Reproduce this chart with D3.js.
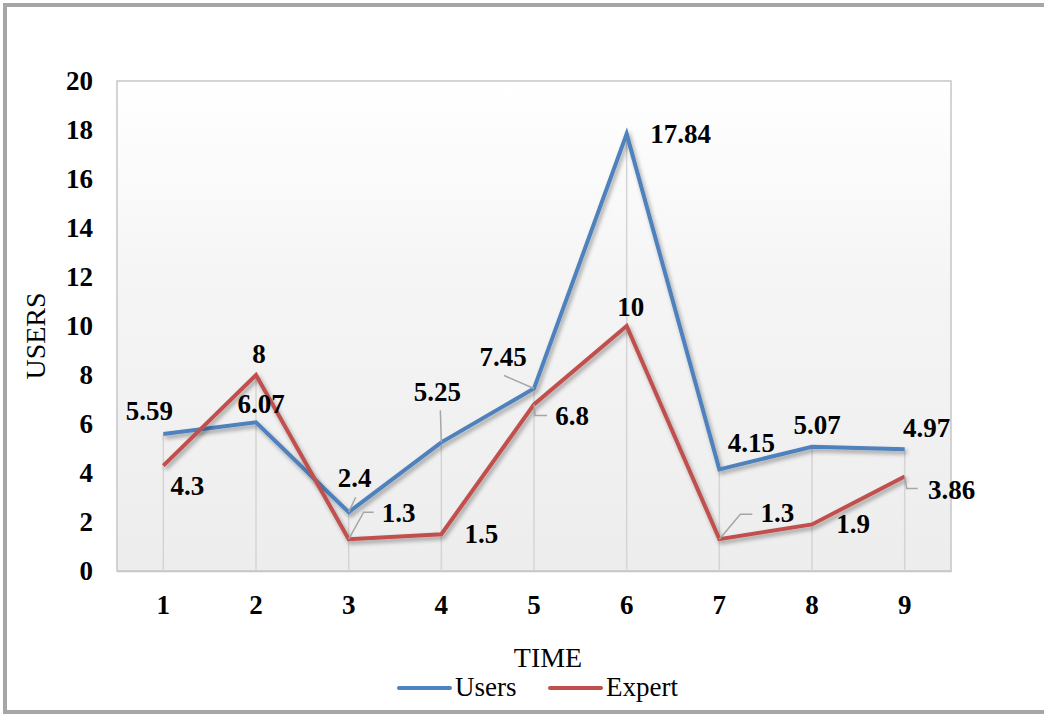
<!DOCTYPE html>
<html>
<head>
<meta charset="utf-8">
<script src="https://cdn.jsdelivr.net/npm/d3@7"></script>
<style>
  html, body { margin: 0; padding: 0; background: #ffffff; }
  svg { display: block; }
  text { font-family: "Liberation Serif", "Times New Roman", serif; fill: #000; }
</style>
</head>
<body>
<svg id="chart" width="1044" height="714"></svg>
<script>
// Chart values
const timeLabels = ["1", "2", "3", "4", "5", "6", "7", "8", "9"];
const usersValues = [5.59, 6.07, 2.4, 5.25, 7.45, 17.84, 4.15, 5.07, 4.97];
const expertValues = [4.3, 8, 1.3, 1.5, 6.8, 10, 1.3, 1.9, 3.86];
const yTicks = [0, 2, 4, 6, 8, 10, 12, 14, 16, 18, 20];
const seriesNames = ["Users", "Expert"];

// Data label placement (offsets from each point, in pixels)
const usersLabelOffsets = [[-14, -23], [5, -18], [6, -34], [-4, -50], [-31, -31], [54, 0], [32, -26], [5, -22], [22, -21]];
const expertLabelOffsets = [[24, 20], [3, -21], [50, -26], [40, 0], [38, 12], [4, -19], [58, -26], [41, 0], [47, 14]];
// Leader lines for labels pushed away from their points
const usersLeaders = [null, null, [[0, 0], [7, -15]], [[0, 0], [-1, -32]], [[0, 0], [-30, -13]], null, null, null, null];
const expertLeaders = [null, null, [[0, 0], [15, -27], [25, -27]], null, [[0, 0], [1, 11], [13, 11]], null, [[0, 0], [21, -25], [33, -25]], null, [[0, 0], [2, 12], [13, 12]]];

const W = 1044, H = 714;
const plot = { left: 117, right: 951, top: 81, bottom: 571 };
const colors = { Users: "#4f81bd", Expert: "#c0504d" };

const svg = d3.select("#chart");
const defs = svg.append("defs");

const grad = defs.append("linearGradient")
  .attr("id", "plotBg").attr("x1", 0).attr("y1", 0).attr("x2", 0).attr("y2", 1);
grad.append("stop").attr("offset", "0%").attr("stop-color", "#ffffff");
grad.append("stop").attr("offset", "45%").attr("stop-color", "#f4f4f4");
grad.append("stop").attr("offset", "100%").attr("stop-color", "#ededed");

const shadow = defs.append("filter").attr("id", "lineShadow")
  .attr("x", "-10%").attr("y", "-10%").attr("width", "120%").attr("height", "130%");
shadow.append("feDropShadow")
  .attr("dx", 2).attr("dy", 3).attr("stdDeviation", 2)
  .attr("flood-color", "#000").attr("flood-opacity", 0.35);

// Outer chart frame
svg.append("rect")
  .attr("x", 5).attr("y", 5).attr("width", W + 20).attr("height", 707)
  .attr("fill", "#ffffff").attr("stroke", "#a6a6a6").attr("stroke-width", 4);

const x = d3.scaleBand().domain(timeLabels).range([plot.left, plot.right]);
const y = d3.scaleLinear().domain([0, 20]).range([plot.bottom, plot.top]);
const cx = i => x(timeLabels[i]) + x.bandwidth() / 2;

// Plot area
svg.append("rect")
  .attr("x", plot.left).attr("y", plot.top)
  .attr("width", plot.right - plot.left).attr("height", plot.bottom - plot.top)
  .attr("fill", "url(#plotBg)").attr("stroke", "#c6c6c6").attr("stroke-width", 1.5);

// Drop lines from the higher point of each category
svg.append("g").selectAll("line").data(timeLabels).join("line")
  .attr("x1", (d, i) => cx(i)).attr("x2", (d, i) => cx(i))
  .attr("y1", (d, i) => y(Math.max(usersValues[i], expertValues[i])))
  .attr("y2", plot.bottom)
  .attr("stroke", "#d4d4d4").attr("stroke-width", 1.5);

// Y axis tick labels
const yAxis = d3.axisLeft(y).tickValues(yTicks).tickSize(0).tickPadding(24).tickFormat(d3.format("d"));
const gy = svg.append("g").attr("transform", `translate(${plot.left},0)`).call(yAxis);
gy.select(".domain").remove();
gy.selectAll("text")
  .style("font-family", '"Liberation Serif", "Times New Roman", serif')
  .style("font-size", "27px").style("font-weight", "bold").attr("fill", "#000");

// X axis tick labels
const xAxis = d3.axisBottom(x).tickSize(0).tickPadding(24);
const gx = svg.append("g").attr("transform", `translate(0,${plot.bottom})`).call(xAxis);
gx.select(".domain").attr("stroke", "#c6c6c6").attr("stroke-width", 1.5);
gx.selectAll("text")
  .style("font-family", '"Liberation Serif", "Times New Roman", serif')
  .style("font-size", "27px").style("font-weight", "bold").attr("fill", "#000");

// Axis titles
svg.append("text")
  .attr("transform", `translate(45,${(plot.top + plot.bottom) / 2 + 10}) rotate(-90)`)
  .attr("text-anchor", "middle")
  .style("font-size", "28px")
  .text("USERS");
svg.append("text")
  .attr("x", 548).attr("y", 667)
  .attr("text-anchor", "middle")
  .style("font-size", "28px")
  .text("TIME");

// Series lines
const line = d3.line().x((d, i) => cx(i)).y(d => y(d));
const series = [
  { name: "Users", values: usersValues, offsets: usersLabelOffsets, leaders: usersLeaders },
  { name: "Expert", values: expertValues, offsets: expertLabelOffsets, leaders: expertLeaders }
];

series.forEach(s => {
  svg.append("path")
    .datum(s.values)
    .attr("d", line)
    .attr("fill", "none")
    .attr("stroke", colors[s.name])
    .attr("stroke-width", 4)
    .attr("stroke-linejoin", "miter")
    .attr("filter", "url(#lineShadow)");
});

// Leader lines and data labels
series.forEach(s => {
  const lg = svg.append("g");
  s.values.forEach((v, i) => {
    const pts = s.leaders[i];
    if (!pts) return;
    lg.append("polyline")
      .attr("points", pts.map(p => [cx(i) + p[0], y(v) + p[1]].join(",")).join(" "))
      .attr("fill", "none").attr("stroke", "#a6a6a6").attr("stroke-width", 1.5);
  });
  svg.append("g").selectAll("text").data(s.values).join("text")
    .attr("x", (d, i) => cx(i) + s.offsets[i][0])
    .attr("y", (d, i) => y(d) + s.offsets[i][1])
    .attr("dy", "0.33em")
    .attr("text-anchor", "middle")
    .style("font-size", "27px").style("font-weight", "bold")
    .text(d => String(d));
});

// Legend
const legend = svg.append("g");
const legendItems = [
  { name: seriesNames[0], x0: 397 },
  { name: seriesNames[1], x0: 548 }
];
legendItems.forEach(it => {
  legend.append("line")
    .attr("x1", it.x0 + 2).attr("x2", it.x0 + 53)
    .attr("y1", 688).attr("y2", 688)
    .attr("stroke", colors[it.name]).attr("stroke-width", 4).attr("stroke-linecap", "round");
  legend.append("text")
    .attr("x", it.x0 + 58).attr("y", 696)
    .style("font-size", "27px")
    .text(it.name);
});
</script>
</body>
</html>
